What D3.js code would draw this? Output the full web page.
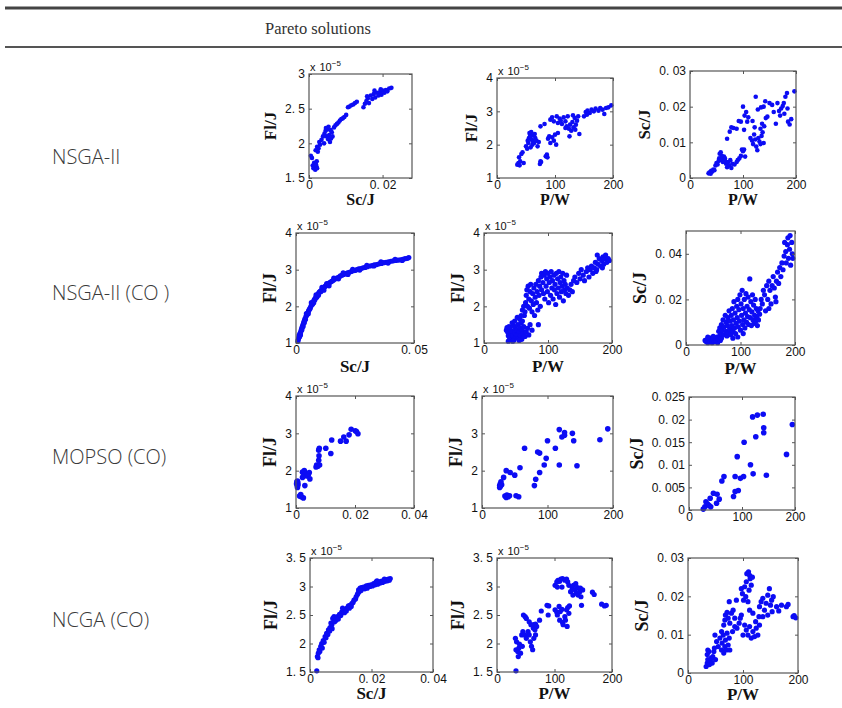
<!DOCTYPE html>
<html>
<head>
<meta charset="utf-8">
<script src="https://cdn.jsdelivr.net/npm/d3@7"></script>
<style>
  body { margin: 0; background: #fff; }
  svg { display: block; }
</style>
</head>
<body>
<div id="chart"></div>
<script>
'use strict';

// ---- data (Fl in units of 1e-5 J, Sc in J, P in W) ----
var header = 'Pareto solutions';
var rowLabels = ['NSGA-II', 'NSGA-II (CO )', 'MOPSO (CO)', 'NCGA (CO)'];

var scTicks1 = [0, 0.02];
var scTicks2 = [0, 0.05];
var scTicks3 = [0, 0.02, 0.04];
var pTicks = [0, 100, 200];
var flTicksA = [1.5, 2, 2.5, 3];
var flTicksB = [1, 2, 3, 4];
var flTicksC = [1.5, 2, 2.5, 3, 3.5];
var scTicksY1 = [0, 0.01, 0.02, 0.03];
var scTicksY2 = [0, 0.02, 0.04];
var scTicksY3 = [0, 0.005, 0.01, 0.015, 0.02, 0.025];

var nsgaScFl = [
  [0.0005,1.82],[0.0008,1.79],[0.001,1.68],[0.0012,1.64],[0.0014,1.72],[0.0015,1.66],[0.0017,1.62],[0.0018,1.7],
  [0.002,1.67],[0.0022,1.64],[0.0021,1.74],[0.0019,1.69],[0.0018,1.9],[0.0022,1.95],[0.0026,1.93],[0.003,1.98],
  [0.0028,2.02],[0.0024,1.88],[0.0034,2.05],[0.0038,2.1],[0.0042,2.14],[0.0045,2.18],[0.0048,2.1],[0.005,2.2],
  [0.0052,2.06],[0.0055,2.12],[0.0057,2.02],[0.006,2.07],[0.0062,2.16],[0.0046,2.22],[0.0041,2.0],[0.0053,2.24],
  [0.0064,2.1],[0.0059,2.19],[0.0068,2.23],[0.0072,2.26],[0.0076,2.28],[0.008,2.3],[0.0084,2.33],[0.0088,2.35],
  [0.0092,2.36],[0.0096,2.38],[0.0101,2.41],[0.0106,2.52],[0.011,2.53],[0.0115,2.55],[0.012,2.56],[0.0125,2.58],
  [0.013,2.6],[0.0148,2.52],[0.0152,2.57],[0.0156,2.61],[0.016,2.65],[0.0163,2.58],[0.0168,2.69],[0.0172,2.64],
  [0.0176,2.71],[0.018,2.66],[0.0185,2.73],[0.0189,2.69],[0.0193,2.74],[0.0197,2.7],[0.0201,2.76],[0.0205,2.73],
  [0.0209,2.77],[0.0213,2.75],[0.0218,2.79],[0.0224,2.8],[0.0158,2.68],[0.0178,2.76],[0.0195,2.78]
];

var nsgaPFl = [
  [35,1.4],[37,1.45],[39,1.38],[40,1.5],[42,1.72],[44,1.77],[46,1.45],[38,1.62],
  [50,1.95],[52,1.88],[54,2.05],[55,2.2],[56,2.35],[57,2.3],[58,2.25],[59,2.38],[60,2.15],[61,2.0],[62,2.1],
  [63,2.28],[64,2.05],[66,2.2],[68,2.12],[70,1.95],[72,2.08],[53,2.12],[65,2.32],[58,1.92],
  [74,1.42],[75,1.5],[76,1.48],[84,1.65],[87,1.62],[86,1.7],
  [75,2.55],[82,2.62],[88,2.18],[92,2.05],[95,2.22],[98,2.12],[100,2.3],[102,2.0],[105,2.35],[90,2.25],
  [92,2.75],[95,2.82],[98,2.7],[103,2.85],[105,2.65],[108,2.78],[112,2.62],[115,2.82],[118,2.7],[120,2.55],
  [122,2.85],[124,2.48],[126,2.6],[128,2.42],[130,2.68],[132,2.52],[134,2.8],[136,2.6],[138,2.72],[140,2.85],
  [142,2.32],[125,2.25],[110,2.72],[118,2.5],[135,2.45],[131,2.88],
  [150,2.85],[153,2.98],[156,3.02],[160,2.95],[163,3.05],[167,3.0],[170,3.08],[175,3.02],[178,3.1],[182,3.05],
  [185,2.92],[188,3.1],[192,3.12],[197,3.18],[155,2.9]
];

var nsgaPSc = [
  [35,0.0013],[37,0.0016],[39,0.0012],[40,0.002],[42,0.0018],[44,0.0024],[46,0.0022],[48,0.0035],[50,0.0042],
  [52,0.0038],[54,0.0048],[55,0.0055],[56,0.0068],[58,0.0072],[60,0.005],[62,0.0045],[64,0.006],[66,0.0055],
  [68,0.004],[70,0.003],[72,0.0045],[74,0.0035],[76,0.005],[78,0.0028],[80,0.004],[84,0.0038],[88,0.0045],
  [90,0.005],[93,0.0055],[96,0.0062],[98,0.008],[100,0.0075],[102,0.008],[104,0.006],[60,0.0062],[66,0.0048],
  [70,0.011],[75,0.013],[78,0.0142],[82,0.014],[88,0.0138],[92,0.016],[96,0.0158],[100,0.02],[103,0.0175],
  [106,0.0185],[110,0.017],[102,0.0135],[108,0.0158],
  [114,0.0112],[117,0.0105],[119,0.0095],[121,0.0122],[123,0.0108],[125,0.0088],[127,0.0078],[129,0.0112],
  [131,0.0102],[133,0.0095],[135,0.0118],[137,0.0128],[139,0.0098],[124,0.0228],[128,0.0192],[133,0.0138],
  [136,0.0152],[140,0.0145],[143,0.0168],[146,0.0172],[150,0.021],[134,0.0198],[139,0.02],[142,0.0215],
  [118,0.016],[122,0.0142],
  [155,0.0205],[158,0.0185],[162,0.0152],[165,0.021],[168,0.0188],[172,0.0195],[175,0.0202],[177,0.021],
  [180,0.0228],[183,0.0238],[185,0.0158],[188,0.015],[191,0.0165],[197,0.0243],[178,0.018],[184,0.0195],[170,0.0175]
];

var nsgaCoScFl = [
  [0.0008,1.05],[0.001,1.1],[0.0012,1.14],[0.0013,1.2],[0.0015,1.17],[0.0016,1.24],[0.0018,1.27],[0.0019,1.22],
  [0.002,1.3],[0.0022,1.35],[0.0024,1.4],[0.0025,1.36],[0.0027,1.45],[0.0029,1.49],[0.003,1.45],[0.0032,1.54],
  [0.0034,1.58],[0.0036,1.62],[0.0038,1.66],[0.004,1.64],[0.0042,1.72],[0.0045,1.76],[0.0048,1.8],[0.005,1.82],
  [0.0053,1.87],[0.0055,1.9],[0.0058,1.93],[0.006,1.95],[0.0063,2.0],[0.0066,2.04],[0.0068,2.08],[0.007,2.06],
  [0.0073,2.12],[0.0076,2.15],[0.0078,2.19],[0.008,2.18],[0.0083,2.23],[0.0086,2.27],[0.0088,2.25],[0.009,2.3],
  [0.0093,2.33],[0.0096,2.36],[0.0099,2.39],[0.0102,2.41],[0.0105,2.4],[0.0108,2.44],[0.0112,2.47],[0.0116,2.5],
  [0.012,2.52],[0.0124,2.55],[0.0128,2.57],[0.0133,2.6],[0.0138,2.62],[0.0143,2.65],[0.0148,2.67],[0.0153,2.69],
  [0.0158,2.71],[0.0164,2.74],[0.017,2.76],[0.0176,2.78],[0.0182,2.8],[0.0188,2.83],[0.0195,2.85],[0.0202,2.87],
  [0.021,2.89],[0.0218,2.91],[0.0226,2.93],[0.0234,2.95],[0.0242,2.97],[0.025,2.98],[0.0258,3.0],[0.0266,3.02],
  [0.0275,3.03],[0.0284,3.05],[0.0293,3.06],[0.0302,3.08],[0.0312,3.1],[0.0322,3.11],[0.0332,3.13],[0.0342,3.14],
  [0.0352,3.16],[0.0362,3.17],[0.0372,3.19],[0.0382,3.2],[0.0392,3.21],[0.0402,3.23],[0.0412,3.24],[0.0422,3.25],
  [0.0432,3.26],[0.0442,3.27],[0.0452,3.28],[0.0462,3.3],[0.0472,3.31],[0.0478,3.33],
  [0.0035,1.55],[0.0044,1.8],[0.0052,1.8],[0.0065,2.1],[0.0075,2.1],[0.0085,2.31],[0.0095,2.3],[0.011,2.52],
  [0.0118,2.44],[0.013,2.62],[0.014,2.56],[0.016,2.77],[0.018,2.75],[0.02,2.91],[0.022,2.87],[0.024,3.01],
  [0.027,2.99],[0.03,3.12],[0.033,3.1],[0.036,3.21],[0.039,3.18],[0.042,3.28],[0.045,3.25]
];

var nsgaCoPFl = [
  [35,1.35],[36,1.42],[37,1.3],[38,1.2],[39,1.45],[40,1.15],[41,1.38],[42,1.25],[43,1.1],[44,1.32],[45,1.2],
  [46,1.48],[47,1.08],[48,1.28],[49,1.4],[50,1.15],[51,1.35],[52,1.22],[53,1.5],[54,1.12],[55,1.3],[56,1.42],
  [57,1.2],[58,1.55],[59,1.1],[60,1.35],[61,1.25],[62,1.45],[64,1.18],[66,1.3],[68,1.4],[70,1.22],[44,1.55],
  [48,1.6],[52,1.7],[56,1.65],[60,1.6],[63,1.75],[38,1.05],[45,1.05],[55,1.07],[72,1.5],[75,1.35],[85,1.5],
  [58,1.75],[60,1.9],[62,2.0],[64,1.85],[65,2.1],[66,2.3],[67,2.45],[68,2.0],[69,2.55],[70,2.2],[71,1.95],
  [72,2.4],[73,2.6],[74,2.15],[75,1.85],[76,2.35],[77,2.05],[78,2.5],[79,1.75],[80,2.25],[81,2.6],[82,2.1],
  [83,2.4],[84,1.9],[85,2.7],[86,2.3],[87,2.55],[88,2.0],[89,2.8],[90,2.45],
  [90,2.9],[92,2.65],[93,2.35],[94,2.85],[95,2.2],[96,2.95],[97,2.55],[98,2.75],[99,2.4],[100,2.9],[101,2.1],
  [102,2.65],[103,2.8],[104,2.3],[105,2.95],[106,2.5],[107,2.7],[108,2.2],[109,2.85],[110,2.45],[111,2.6],
  [112,2.05],[113,2.9],[114,2.35],[115,2.75],[116,2.5],[117,2.95],[118,2.25],[119,2.65],[120,2.8],[121,2.4],
  [122,2.55],[123,2.9],[124,2.15],[125,2.7],[126,2.45],[127,2.6],[128,2.35],[129,2.85],[130,2.5],[132,2.3],
  [134,2.45],[136,2.6],[138,2.4],[140,2.7],
  [142,2.8],[145,2.65],[148,2.9],[150,2.75],[152,3.0],[155,2.85],[157,2.7],[160,2.95],[162,3.05],[164,2.8],
  [166,3.0],[168,3.1],[170,2.9],[172,3.05],[174,3.2],[176,3.0],[177,3.4],[178,3.15],[180,3.3],[182,3.1],
  [184,3.25],[186,3.35],[187,3.15],[188,3.3],[190,3.4],[192,3.2],[194,3.3],[196,3.25],[185,3.05],[175,2.95]
];

var nsgaCoPSc = [
  [35,0.002],[37,0.0015],[39,0.0025],[40,0.001],[42,0.002],[44,0.0015],[45,0.003],[47,0.002],[48,0.001],
  [50,0.0025],[52,0.0015],[53,0.003],[55,0.002],[57,0.0035],[58,0.001],[60,0.0025],[62,0.004],[63,0.002],
  [65,0.003],[40,0.0035],[50,0.0038],
  [60,0.006],[62,0.0075],[64,0.005],[65,0.009],[66,0.0065],[68,0.011],[69,0.0045],[70,0.008],[72,0.013],
  [73,0.006],[74,0.01],[75,0.004],[76,0.0085],[77,0.012],[78,0.0055],[79,0.015],[80,0.007],[81,0.0105],
  [82,0.0045],[83,0.013],[84,0.0085],[85,0.016],[86,0.006],[87,0.011],[88,0.019],[89,0.0075],[90,0.014],
  [91,0.005],[92,0.0095],[93,0.017],[94,0.012],[95,0.02],[96,0.008],[97,0.0155],[98,0.0105],[99,0.022],
  [100,0.0065],[101,0.018],[102,0.013],[103,0.024],[104,0.009],[105,0.016],[106,0.011],[107,0.02],[108,0.0075],
  [109,0.014],[110,0.0225],[111,0.01],[112,0.017],[113,0.0125],[114,0.021],[115,0.009],[116,0.0155],[117,0.029],
  [118,0.012],[119,0.019],[120,0.0085],[121,0.0145],[122,0.022],[123,0.011],[124,0.0175],[125,0.0095],
  [126,0.013],[127,0.02],[128,0.0105],[129,0.016],[130,0.012],[131,0.0085],[132,0.015],[133,0.011],[135,0.0135],
  [86,0.003],[95,0.0035],[105,0.005],
  [136,0.016],[138,0.02],[140,0.018],[142,0.024],[144,0.022],[146,0.015],[148,0.026],[150,0.02],[152,0.028],
  [154,0.024],[156,0.018],[158,0.026],[160,0.03],[162,0.025],[164,0.021],[166,0.028],[168,0.032],[170,0.027],
  [172,0.034],[174,0.03],[176,0.036],[178,0.033],[180,0.039],[181,0.045],[183,0.041],[184,0.036],[186,0.044],
  [187,0.047],[188,0.038],[190,0.042],[191,0.048],[192,0.035],[194,0.045],[195,0.04],[196,0.038],[152,0.016],[165,0.019]
];

var mopsoScFl = [
  [0.0002,1.65],[0.0003,1.7],[0.0004,1.6],[0.0005,1.55],[0.0006,1.68],[0.0007,1.62],[0.0005,1.72],
  [0.0012,1.32],[0.0018,1.3],[0.0025,1.27],[0.0016,1.36],
  [0.0022,1.96],[0.0028,2.0],[0.0033,1.92],[0.0042,1.9],[0.0045,1.95],[0.0037,1.86],[0.0047,1.78],[0.003,1.6],[0.0022,1.82],
  [0.0068,2.1],[0.007,2.15],[0.0074,2.12],[0.008,2.15],[0.0077,2.28],[0.0078,2.4],[0.0077,2.55],[0.0079,2.6],
  [0.0101,2.6],[0.0118,2.46],[0.0121,2.82],
  [0.0151,2.79],[0.0162,2.9],[0.017,2.79],[0.018,2.96],[0.0187,3.11],[0.0201,3.07],[0.0205,3.05],[0.021,2.99]
];

var mopsoPFl = [
  [27,1.55],[27,1.6],[28,1.65],[29,1.7],[30,1.62],[28,1.58],
  [33,1.82],[37,2.0],[43,1.95],[50,1.88],[58,2.08],[65,2.6],
  [35,1.32],[37,1.28],[38,1.35],[40,1.3],[42,1.33],[52,1.33],[56,1.3],
  [80,1.6],[82,1.77],[85,2.5],[88,2.47],[88,1.95],[95,2.15],[98,2.33],[100,2.8],[112,2.6],[118,3.1],[118,2.15],
  [122,2.9],[126,3.02],[126,2.95],[138,3.0],[140,2.8],[145,2.13],[180,2.83],[192,3.12]
];

var mopsoPSc = [
  [27,0.0002],[30,0.0007],[32,0.0018],[35,0.0013],[38,0.001],[41,0.0007],[40,0.0026],[46,0.0037],[53,0.0035],
  [52,0.0015],[57,0.0024],[62,0.0064],[66,0.0074],[84,0.003],[87,0.0041],[93,0.0043],[87,0.0074],[91,0.0118],
  [97,0.007],[103,0.0074],[104,0.015],[116,0.01],[121,0.008],[126,0.0162],[120,0.0206],[129,0.021],[140,0.0212],
  [141,0.0182],[141,0.0171],[146,0.0077],[184,0.0123],[195,0.0189]
];

var ncgaScFl = [
  [0.0022,1.52],[0.0024,1.77],[0.0027,1.83],[0.003,1.89],[0.0035,1.95],[0.0038,2.0],[0.0043,2.05],[0.0049,2.12],
  [0.0054,2.18],[0.006,2.24],[0.0065,2.28],[0.0071,2.33],[0.0074,2.44],[0.0078,2.47],[0.0085,2.41],[0.0089,2.47],
  [0.0096,2.51],[0.0103,2.55],[0.0109,2.57],[0.0114,2.59],[0.012,2.62],[0.0125,2.66],[0.013,2.67],[0.0136,2.7],
  [0.0143,2.76],[0.015,2.82],[0.0154,2.86],[0.0158,2.94],[0.0163,2.97],[0.0168,2.98],[0.0174,2.99],[0.0183,3.01],
  [0.019,3.02],[0.0198,3.03],[0.0207,3.05],[0.0215,3.08],[0.0223,3.07],[0.023,3.09],[0.0239,3.11],[0.0248,3.12],
  [0.0255,3.13],[0.0261,3.14],
  [0.0026,1.75],[0.0032,1.86],[0.004,1.92],[0.0046,2.02],[0.0052,2.1],[0.0058,2.16],[0.0064,2.22],[0.0068,2.36],
  [0.0072,2.26],[0.008,2.38],[0.0092,2.43],[0.01,2.49],[0.0106,2.62],[0.0112,2.54],[0.0118,2.57],[0.0128,2.62],
  [0.0134,2.65],[0.014,2.72],[0.0148,2.78],[0.0156,2.88],[0.016,2.91],[0.0166,2.93],[0.0178,2.96],[0.0186,2.97],
  [0.0195,3.0],[0.0203,3.01],[0.0212,3.03],[0.022,3.04],[0.0228,3.06],[0.0236,3.07],[0.0244,3.09],[0.0252,3.1],
  [0.0258,3.11],[0.0242,3.13],[0.0218,3.1]
];

var ncgaPFl = [
  [33,1.52],[32,2.09],[34,2.03],[36,1.86],[33,1.89],[38,1.92],[41,1.83],[37,1.77],[43,2.15],[45,2.21],[39,1.99],[44,1.95],
  [46,2.5],[49,2.47],[51,2.44],
  [48,2.15],[51,2.09],[54,2.21],[56,2.15],[58,2.03],[60,1.95],[62,1.89],[63,2.27],[64,2.33],[66,2.24],[67,2.34],
  [69,2.3],[67,2.15],[64,2.09],[59,2.33],[56,2.38],
  [74,2.41],[77,2.57],[89,2.5],[90,2.66],[87,2.67],
  [101,2.59],[104,2.55],[105,2.5],[108,2.65],[109,2.41],[110,2.56],[113,2.6],[114,2.37],[115,2.33],[118,2.47],
  [121,2.59],[122,2.3],[123,2.63],[125,2.53],[126,2.66],[119,2.41],
  [101,3.02],[104,3.08],[106,3.11],[109,3.09],[111,3.13],[114,3.14],[118,3.11],[121,3.13],[123,3.08],[113,2.99],
  [125,3.02],[105,2.99],
  [128,2.91],[131,2.97],[132,2.85],[133,3.02],[136,2.94],[137,3.05],[138,2.88],[140,2.98],[141,2.85],[144,2.91],
  [145,2.97],[146,2.82],[149,2.94],[147,2.67],
  [166,2.9],[169,2.86],[182,2.69],[187,2.66],[190,2.67]
];

var ncgaPSc = [
  [33,0.0017],[35,0.0026],[36,0.0035],[35,0.0048],[38,0.0056],[39,0.0022],[41,0.003],[42,0.0039],[44,0.0026],
  [45,0.0043],[47,0.0056],[48,0.0065],[36,0.006],[50,0.0035],
  [49,0.0099],[52,0.0082],[55,0.0069],[58,0.0091],[61,0.006],[62,0.0078],[64,0.0099],[65,0.0052],[67,0.0069],
  [68,0.0086],[70,0.006],[71,0.0104],[73,0.0073],[75,0.0091],[76,0.006],[61,0.0108],
  [65,0.0125],[67,0.0138],[68,0.0151],[71,0.0158],[73,0.0143],[76,0.013],[79,0.0156],[82,0.0164],[85,0.0143],
  [88,0.019],[75,0.0186],
  [81,0.0108],[85,0.0121],[89,0.0117],[93,0.013],[95,0.0143],[97,0.0151],
  [97,0.022],[99,0.0207],[101,0.019],[103,0.0225],[106,0.0238],[107,0.0259],[110,0.0264],[112,0.0255],[113,0.0246],
  [115,0.0229],[111,0.0216],[105,0.0199],[117,0.025],[109,0.0186],
  [100,0.0099],[103,0.0125],[106,0.0112],[109,0.0099],[112,0.0121],[115,0.0091],[118,0.0108],[121,0.0095],
  [124,0.0117],[127,0.0099],[123,0.0134],[129,0.0147],[118,0.0156],[112,0.0164],[130,0.0125],
  [130,0.0173],[133,0.0186],[136,0.0195],[139,0.0164],[142,0.0182],[145,0.0203],[148,0.022],[150,0.0177],
  [152,0.019],[153,0.016],[155,0.0199],[145,0.0151],[136,0.0147],
  [161,0.0173],[165,0.0162],[170,0.0177],[179,0.0173],[182,0.0179],
  [191,0.0147],[196,0.0144],[193,0.015]
];

// ---- layout ----
var W = 842, H = 708;
var rowLabelY = [164, 300, 464, 627];
var rowFont = [16, 17, 17, 17];
var xLabelGap = [27, 29, 27, 27];

var panels = [
  {row: 0, data: nsgaScFl, box: [309, 74, 412, 178], xd: [0, 0.028], yd: [1.5, 3], xt: scTicks1, yt: flTicksA, xl: 'Sc/J', yl: 'Fl/J', mult: true, r: 2.3},
  {row: 0, data: nsgaPFl, box: [497, 78, 613, 178], xd: [0, 200], yd: [1, 4], xt: pTicks, yt: flTicksB, xl: 'P/W', yl: 'Fl/J', mult: true, r: 2.3},
  {row: 0, data: nsgaPSc, box: [690, 71, 796, 178], xd: [0, 200], yd: [0, 0.03], xt: pTicks, yt: scTicksY1, xl: 'P/W', yl: 'Sc/J', mult: false, r: 2.3},
  {row: 1, data: nsgaCoScFl, box: [296, 233, 414, 343], xd: [0, 0.05], yd: [1, 4], xt: scTicks2, yt: flTicksB, xl: 'Sc/J', yl: 'Fl/J', mult: true, r: 2.6},
  {row: 1, data: nsgaCoPFl, box: [484, 233, 612, 343], xd: [0, 200], yd: [1, 4], xt: pTicks, yt: flTicksB, xl: 'P/W', yl: 'Fl/J', mult: true, r: 2.6},
  {row: 1, data: nsgaCoPSc, box: [686, 231, 795, 345], xd: [0, 200], yd: [0, 0.05], xt: pTicks, yt: scTicksY2, xl: 'P/W', yl: 'Sc/J', mult: false, r: 2.6},
  {row: 2, data: mopsoScFl, box: [296, 396, 414, 508], xd: [0, 0.04], yd: [1, 4], xt: scTicks3, yt: flTicksB, xl: '', yl: 'Fl/J', mult: true, r: 2.8},
  {row: 2, data: mopsoPFl, box: [482, 396, 613, 508], xd: [0, 200], yd: [1, 4], xt: pTicks, yt: flTicksB, xl: '', yl: 'Fl/J', mult: true, r: 2.8},
  {row: 2, data: mopsoPSc, box: [689, 397, 795, 510], xd: [0, 200], yd: [0, 0.025], xt: pTicks, yt: scTicksY3, xl: '', yl: 'Sc/J', mult: false, r: 2.8},
  {row: 3, data: ncgaScFl, box: [310, 558, 433, 672], xd: [0, 0.04], yd: [1.5, 3.5], xt: scTicks3, yt: flTicksC, xl: 'Sc/J', yl: 'Fl/J', mult: true, r: 2.6},
  {row: 3, data: ncgaPFl, box: [497, 558, 612, 672], xd: [0, 200], yd: [1.5, 3.5], xt: pTicks, yt: flTicksC, xl: 'P/W', yl: 'Fl/J', mult: true, r: 2.6},
  {row: 3, data: ncgaPSc, box: [688, 558, 798, 673], xd: [0, 200], yd: [0, 0.03], xt: pTicks, yt: scTicksY1, xl: 'P/W', yl: 'Sc/J', mult: false, r: 2.6}
];

var fmt = function(d) { return String(d).replace('.', '. '); };
var tickFont = '"Liberation Sans", Arial, sans-serif';
var labelFont = '"Liberation Serif", "Times New Roman", serif';

var svg = d3.select('#chart').append('svg')
  .attr('width', W)
  .attr('height', H);

svg.append('rect').attr('width', W).attr('height', H).attr('fill', '#fff');

// table rules and header
svg.append('line').attr('x1', 5).attr('x2', W).attr('y1', 8).attr('y2', 8)
  .attr('stroke', '#444').attr('stroke-width', 3);
svg.append('line').attr('x1', 5).attr('x2', W).attr('y1', 47).attr('y2', 47)
  .attr('stroke', '#555').attr('stroke-width', 2);
svg.append('text').attr('x', 265).attr('y', 34)
  .attr('font-family', labelFont).attr('font-size', 16.5).attr('fill', '#333')
  .text(header);

svg.selectAll('text.rowlabel').data(rowLabels).join('text')
  .attr('class', 'rowlabel')
  .attr('x', 52)
  .attr('y', function(d, i) { return rowLabelY[i]; })
  .attr('font-family', '"Open Sans", "Noto Sans", sans-serif')
  .attr('font-weight', 300)
  .attr('font-size', 20)
  .attr('fill', '#3a3a3a')
  .text(function(d) { return d; });

panels.forEach(function(p) {
  var b = p.box;
  var x = d3.scaleLinear().domain(p.xd).range([b[0], b[2]]);
  var y = d3.scaleLinear().domain(p.yd).range([b[3], b[1]]);
  var g = svg.append('g');

  g.append('g').selectAll('circle').data(p.data).join('circle')
    .attr('cx', function(d) { return x(d[0]); })
    .attr('cy', function(d) { return y(d[1]); })
    .attr('r', p.r)
    .attr('fill', '#0c0cf4');

  var styleAxis = function(sel) {
    sel.select('.domain').remove();
    sel.selectAll('.tick line').attr('stroke', '#555');
    sel.selectAll('text').attr('font-family', tickFont).attr('font-size', 12).attr('fill', '#111');
  };

  g.append('g').attr('transform', 'translate(0,' + b[3] + ')')
    .call(d3.axisBottom(x).tickValues(p.xt).tickSize(-3).tickPadding(2).tickFormat(fmt))
    .call(styleAxis);
  g.append('g').attr('transform', 'translate(0,' + b[1] + ')')
    .call(d3.axisTop(x).tickValues(p.xt).tickSize(-3).tickFormat(''))
    .call(styleAxis);
  var ya = g.append('g').attr('transform', 'translate(' + b[0] + ',0)')
    .call(d3.axisLeft(y).tickValues(p.yt).tickSize(-3).tickPadding(4).tickFormat(fmt))
    .call(styleAxis);
  g.append('g').attr('transform', 'translate(' + b[2] + ',0)')
    .call(d3.axisRight(y).tickValues(p.yt).tickSize(-3).tickFormat(''))
    .call(styleAxis);

  g.append('rect')
    .attr('x', b[0]).attr('y', b[1])
    .attr('width', b[2] - b[0]).attr('height', b[3] - b[1])
    .attr('fill', 'none').attr('stroke', '#555').attr('stroke-width', 1.2);

  var fs = rowFont[p.row];
  var tw = d3.max(ya.selectAll('text').nodes(), function(n) { return n.getComputedTextLength(); });
  var ly = b[0] - 4 - tw - 9;
  g.append('text')
    .attr('transform', 'translate(' + ly + ',' + ((b[1] + b[3]) / 2) + ') rotate(-90)')
    .attr('text-anchor', 'middle')
    .attr('font-family', labelFont).attr('font-weight', 'bold').attr('font-size', fs + 1)
    .attr('fill', '#111')
    .text(p.yl);

  if (p.xl) {
    g.append('text')
      .attr('x', (b[0] + b[2]) / 2)
      .attr('y', b[3] + xLabelGap[p.row])
      .attr('text-anchor', 'middle')
      .attr('font-family', labelFont).attr('font-weight', 'bold').attr('font-size', fs)
      .attr('fill', '#111')
      .text(p.xl);
  }

  if (p.mult) {
    var m = g.append('text')
      .attr('x', b[0] + 1).attr('y', b[1] - 3)
      .attr('font-family', tickFont).attr('font-size', 11).attr('fill', '#111');
    m.append('tspan').text('x');
    m.append('tspan').attr('dx', 4).text('10');
    m.append('tspan').attr('dy', -5).attr('font-size', 8).text('\u22125');
  }
});
</script>
</body>
</html>
